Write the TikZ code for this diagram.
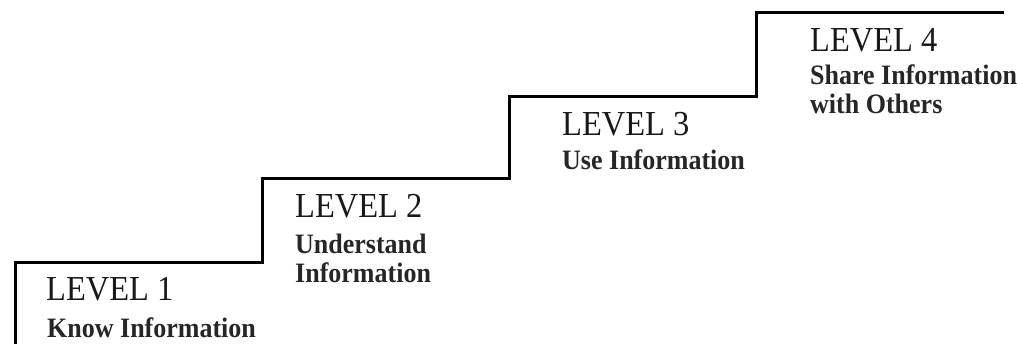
\documentclass[tikz,border=0pt]{standalone}
\usepackage{fontspec}
\setmainfont{Liberation Serif}
\begin{document}
\begin{tikzpicture}[x=1pt,y=1pt,
  stair/.style={line width=3pt, black, line join=miter},
  lvl/.style={anchor=base west, inner sep=0pt, text=black!90, yscale=1.08, font=\fontsize{32.5}{38}\selectfont},
  desc/.style={anchor=base west, inner sep=0pt, text=black!85, yscale=1.08, font=\bfseries\fontsize{26}{30}\selectfont}]
\useasboundingbox (0,0) rectangle (1017,343);
% staircase corners (y = 343 - image y)
\coordinate (s0) at (15,-2);
\coordinate (s1) at (15,81);
\coordinate (s2) at (262,81);
\coordinate (s3) at (262,164);
\coordinate (s4) at (509,164);
\coordinate (s5) at (509,246);
\coordinate (s6) at (756,246);
\coordinate (s7) at (756,330);
\coordinate (s8) at (1004,330);
\draw[stair] (s0) -- (s1) -- (s2) -- (s3) -- (s4) -- (s5) -- (s6) -- (s7) -- (s8);
% level 1
\node[lvl, transform shape] (l1) at (46,43) {LEVEL 1};
\node[desc, transform shape] (l1a) at (47,6) {Know Information};
% level 2
\node[lvl, transform shape] (l2) at (295,126) {LEVEL 2};
\node[desc, transform shape] (l2a) at (295,90) {Understand};
\node[desc, transform shape] (l2b) at (295,61) {Information};
% level 3
\node[lvl, transform shape] (l3) at (562,207) {LEVEL 3};
\node[desc, transform shape] (l3a) at (562,173) {Use Information};
% level 4
\node[lvl, transform shape] (l4) at (810,291) {LEVEL 4};
\node[desc, transform shape] (l4a) at (810,258) {Share Information};
\node[desc, transform shape] (l4b) at (810,229) {with Others};
\end{tikzpicture}
\end{document}
